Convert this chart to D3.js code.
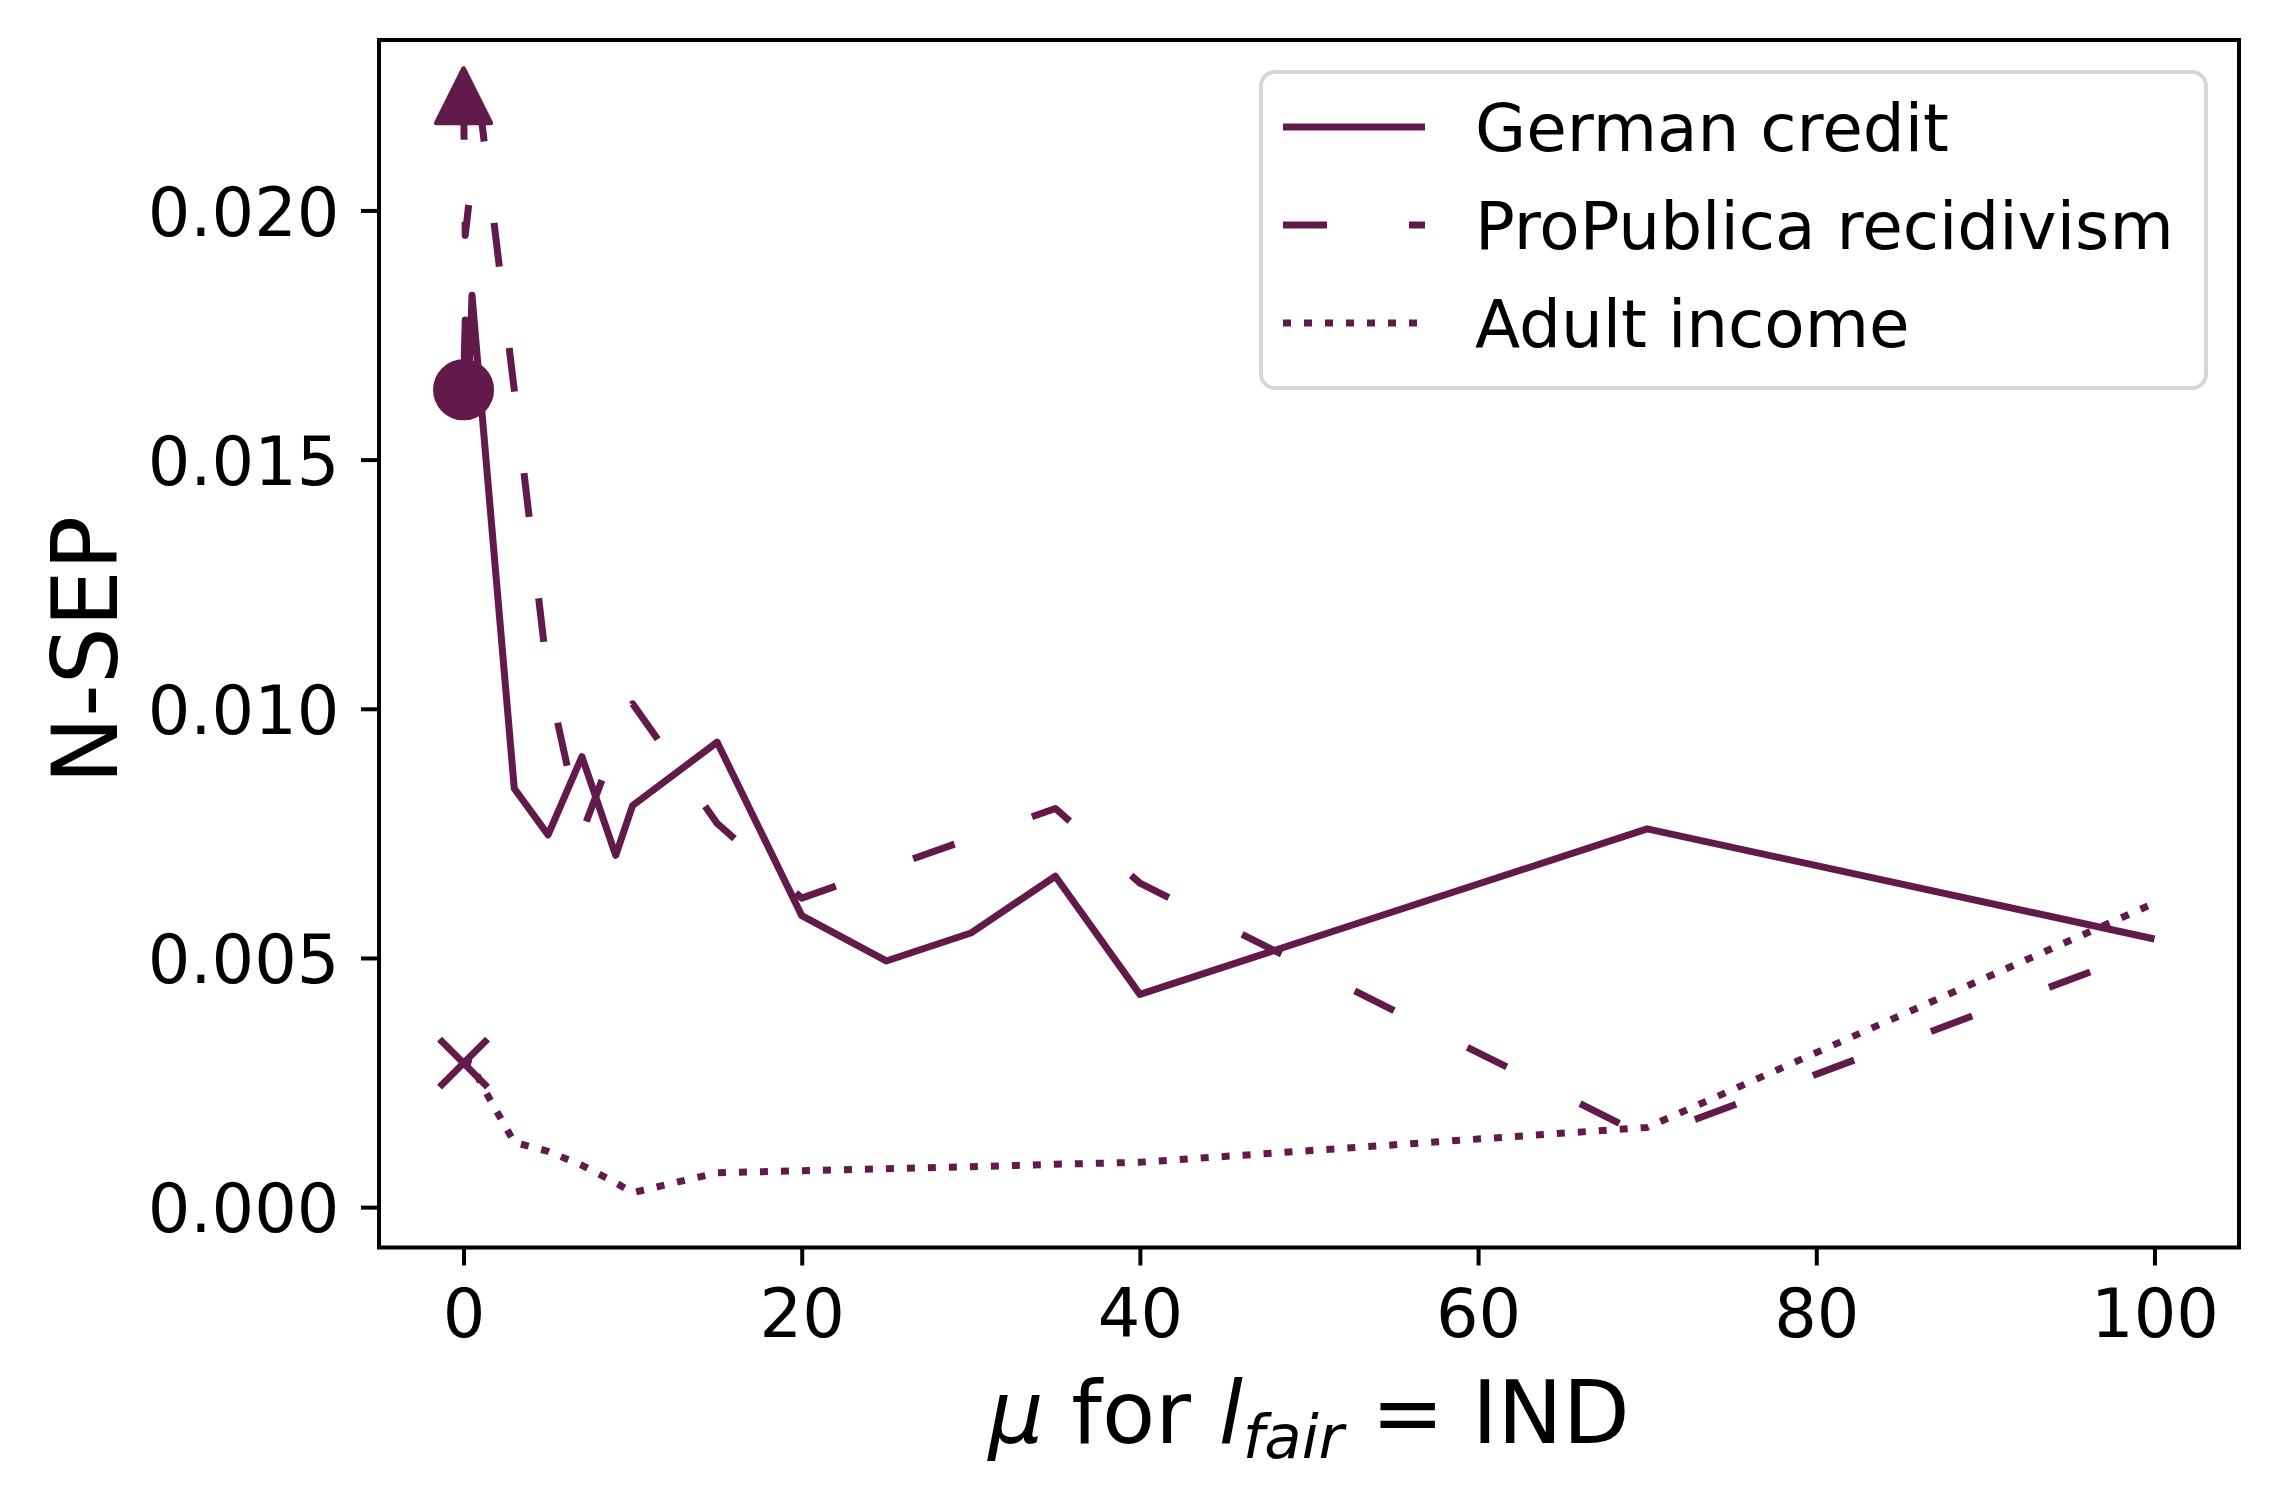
<!DOCTYPE html>
<html>
<head>
<meta charset="utf-8">
<script src="https://cdnjs.cloudflare.com/ajax/libs/d3/7.8.5/d3.min.js"></script>
<style>
  body { margin: 0; background: #fff; }
  svg { display: block; font-family: "DejaVu Sans", sans-serif; }
</style>
</head>
<body>
<div id="chart"></div>
<script>
// mu values (x) shared by all three datasets
var mu = [0, 0.1, 0.3, 0.5, 1, 3, 5, 7, 9, 10, 15, 20, 25, 30, 35, 40, 70, 100];
var germanCredit = [0.0164, 0.0178, 0.0163, 0.0183, 0.0163, 0.0084, 0.00747, 0.00904, 0.00706, 0.00806,
                    0.00933, 0.00585, 0.00494, 0.0055, 0.00664, 0.00427, 0.00759, 0.00538];
var proPublica = [0.0223, 0.0195, 0.0201, 0.0206, 0.0220, 0.0164, 0.0106, 0.0075, 0.0093, 0.0101,
                  0.0077, 0.0062, 0.0068, 0.0074, 0.0080, 0.0065, 0.0014, 0.0052];
var adultIncome = [0.00289, 0.0029, 0.0029, 0.00288, 0.0025, 0.0013, 0.00112, 0.00084, 0.00049, 0.00029,
                   0.00069, 0.00073, 0.00077, 0.00081, 0.00086, 0.0009, 0.0016, 0.0061];
var seriesNames = ["German credit", "ProPublica recidivism", "Adult income"];
var xTicks = [0, 20, 40, 60, 80, 100];
var yTicks = [0, 0.005, 0.010, 0.015, 0.020];

var W = 2278, H = 1504;
var color = "#611a4a";
// plot area (note: "top" is reserved on window, so use prefixed names)
var pLeft = 379, pRight = 2239, pTop = 40, pBottom = 1247.5;

var svg = d3.select("#chart").append("svg").attr("width", W).attr("height", H);
svg.append("rect").attr("width", W).attr("height", H).attr("fill", "#fff");

var x = d3.scaleLinear().domain([-5, 105]).range([pLeft, pRight]);
var y = d3.scaleLinear().domain([-0.00081, 0.02342]).range([pBottom, pTop]);

// axes
var xAxis = svg.append("g").attr("transform", "translate(0," + pBottom + ")")
  .call(d3.axisBottom(x).tickValues(xTicks).tickSize(18).tickPadding(24).tickFormat(d3.format("d")));
var yAxis = svg.append("g").attr("transform", "translate(" + pLeft + ",0)")
  .call(d3.axisLeft(y).tickValues(yTicks).tickSize(18).tickPadding(21.5).tickFormat(d3.format(".3f")));
[xAxis, yAxis].forEach(function (g) {
  g.select(".domain").remove();
  g.selectAll(".tick line").attr("stroke", "#000").attr("stroke-width", 4);
  g.selectAll(".tick text").attr("fill", "#000").attr("font-size", 67)
    .attr("font-family", "DejaVu Sans");
});
yAxis.selectAll(".tick text").attr("dy", "0.37em");

// lines
var rows = [
  {name: seriesNames[0], vals: germanCredit, dash: null, width: 7},
  {name: seriesNames[1], vals: proPublica, dash: "44,82", width: 7},
  {name: seriesNames[2], vals: adultIncome, dash: "8,13", width: 7}
];
var line = d3.line().x(function (d) { return x(d[0]); }).y(function (d) { return y(d[1]); });
rows.forEach(function (r) {
  var pts = mu.map(function (m, i) { return [m, r.vals[i]]; });
  svg.append("path").attr("d", line(pts))
    .attr("fill", "none").attr("stroke", color).attr("stroke-width", r.width)
    .attr("stroke-linejoin", "round").attr("stroke-linecap", "butt")
    .attr("stroke-dasharray", r.dash);
});

// markers on the first point of each curve
svg.append("circle").attr("cx", x(mu[0])).attr("cy", y(germanCredit[0])).attr("r", 28)
  .attr("fill", color).attr("stroke", color).attr("stroke-width", 5);
var tx = x(mu[0]), ty = y(proPublica[0]), s = 27;
svg.append("path")
  .attr("d", "M" + tx + "," + (ty - s) + "L" + (tx - s) + "," + (ty + s) + "L" + (tx + s) + "," + (ty + s) + "Z")
  .attr("fill", color).attr("stroke", color).attr("stroke-width", 5).attr("stroke-linejoin", "round");
var cx = x(mu[0]), cy = y(adultIncome[0]), k = 24;
svg.append("path")
  .attr("d", "M" + (cx - k) + "," + (cy - k) + "L" + (cx + k) + "," + (cy + k) +
             "M" + (cx - k) + "," + (cy + k) + "L" + (cx + k) + "," + (cy - k))
  .attr("stroke", color).attr("stroke-width", 7).attr("fill", "none");

// frame
svg.append("rect").attr("x", pLeft).attr("y", pTop).attr("width", pRight - pLeft).attr("height", pBottom - pTop)
  .attr("fill", "none").attr("stroke", "#000").attr("stroke-width", 4);

// legend
var leg = svg.append("g");
leg.append("rect").attr("x", 1261).attr("y", 72).attr("width", 945).attr("height", 316).attr("rx", 14)
  .attr("fill", "#fff").attr("fill-opacity", 0.8).attr("stroke", "#d6d6d6").attr("stroke-width", 4);
rows.forEach(function (r, i) {
  var ly = 127 + i * 98;
  leg.append("line").attr("x1", 1283).attr("x2", 1425).attr("y1", ly).attr("y2", ly)
    .attr("stroke", color).attr("stroke-width", r.width).attr("stroke-dasharray", r.dash);
  leg.append("text").attr("x", 1475).attr("y", ly + 24).attr("font-size", 66).attr("fill", "#000")
    .text(r.name);
});

// axis labels
svg.append("text").attr("transform", "translate(117,650) rotate(-90)")
  .attr("text-anchor", "middle").attr("font-size", 90).attr("fill", "#000").text("N-SEP");
var xl = svg.append("text").attr("x", (pLeft + pRight) / 2).attr("y", 1443)
  .attr("text-anchor", "middle").attr("font-size", 87).attr("fill", "#000");
xl.append("tspan").attr("font-style", "italic").text("\u03bc");
xl.append("tspan").text(" for ");
xl.append("tspan").attr("font-style", "italic").text("l");
xl.append("tspan").attr("font-style", "italic").attr("font-size", 61).attr("dy", 15).text("fair");
xl.append("tspan").attr("dy", -15).text(" = IND");
</script>
</body>
</html>
